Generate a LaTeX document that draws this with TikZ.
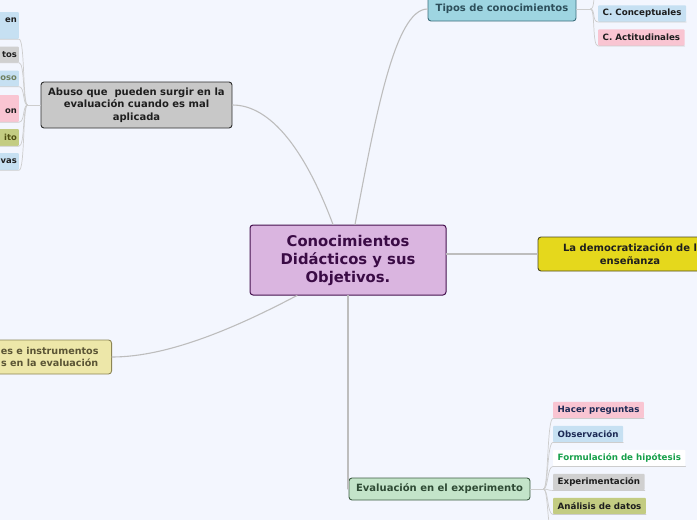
\documentclass[tikz,border=0pt]{standalone}
\usepackage{fontspec}
\setmainfont{DejaVu Sans}
\definecolor{bgpaper}{HTML}{F3F6FE}
\definecolor{linkgray}{HTML}{BDBDBD}
\definecolor{twiggray}{HTML}{CDCDCD}
\definecolor{cfill}{HTML}{DAB5E0}
\definecolor{cdraw}{HTML}{45124F}
\definecolor{ctext}{HTML}{3A0B45}
\definecolor{abfill}{HTML}{C8C8C8}
\definecolor{abdraw}{HTML}{2E2E2E}
\definecolor{tifill}{HTML}{9ED5E1}
\definecolor{tidraw}{HTML}{3D6E7C}
\definecolor{titext}{HTML}{2C4E5A}
\definecolor{defill}{HTML}{E5D81C}
\definecolor{dedraw}{HTML}{4D4A20}
\definecolor{infill}{HTML}{EDE7A9}
\definecolor{indraw}{HTML}{8C8555}
\definecolor{intext}{HTML}{5B5535}
\definecolor{evfill}{HTML}{C3E4C9}
\definecolor{evdraw}{HTML}{3E5E44}
\definecolor{evtext}{HTML}{2E4A34}
\definecolor{blueleaf}{HTML}{C6E0F2}
\definecolor{pinkleaf}{HTML}{F9C5D2}
\definecolor{grayleaf}{HTML}{D0D0D0}
\definecolor{oliveleaf}{HTML}{C3CC82}
\definecolor{navytext}{HTML}{1C2A55}
\definecolor{greentext}{HTML}{17A04B}
\definecolor{sagetext}{HTML}{6E7F5E}
\definecolor{olivetext}{HTML}{4E4E10}
\definecolor{darktext}{HTML}{1E1E1E}
\tikzset{
  every picture/.style={line join=round, line cap=round},
  topic/.style={draw, rounded corners=3pt, line width=0.9pt, align=center, inner sep=0pt,
    font=\bfseries\fontsize{10}{12.5}\selectfont},
  leaf/.style={rounded corners=1pt, inner xsep=4.5pt, inner ysep=0pt, minimum height=16.5pt,
    font=\bfseries\fontsize{8.7}{11}\selectfont},
  branch/.style={draw=linkgray, line width=1.1pt},
  twig/.style={draw=twiggray, line width=0.7pt},
}

\begin{document}
\begin{tikzpicture}[x=1pt,y=-1pt]
\fill[bgpaper] (0,0) rectangle (697,520);
\useasboundingbox (0,0) rectangle (697,520);
\clip (0,0) rectangle (697,520);
% centre and main topics
\node[topic, fill=cfill, draw=cdraw, text=ctext, line width=1pt, minimum width=196pt, minimum height=70pt,
  font=\bfseries\fontsize{14.8}{18}\selectfont] (c) at (348,260) {Conocimientos\\Didácticos y sus\\Objetivos.};
\node[topic, fill=abfill, draw=abdraw, text=darktext, minimum width=191pt, minimum height=46pt] (abuso) at (136.5,105)
  {Abuso que \ pueden surgir en la\\evaluación cuando es mal\\aplicada};
\node[topic, fill=tifill, draw=tidraw, text=titext, minimum width=148pt, minimum height=24pt] (tipos) at (502,9) {Tipos de conocimientos};
\node[topic, fill=defill, draw=dedraw, text=darktext, minimum width=184pt, minimum height=34pt] (democ) at (630,254)
  {La democratización de l\\enseñanza};
\node[topic, fill=infill, draw=indraw, text=intext, anchor=east, inner xsep=13pt, minimum height=34pt,
  font=\bfseries\fontsize{9.6}{12.5}\selectfont] (instr) at (112,357) {es e instrumentos\\s en la evaluación};
\node[topic, fill=evfill, draw=evdraw, text=evtext, minimum width=181pt, minimum height=22pt] (eval) at (439.5,489) {Evaluación en el experimento};

\draw[branch] ([xshift=-15pt]c.north) .. controls +(-28,-75) and +(38,0) .. (abuso.east);
\draw[branch] ([xshift=7pt]c.north) .. controls +(20,-105) and +(-33,0) .. (tipos.west);
\draw[branch] (c.east |- democ.west) -- (democ.west);
\draw[branch] ([xshift=-51pt]c.south) .. controls +(-57,30) and +(58,0) .. (instr.east);
\draw[branch] (c.south) -- (c.south |- eval.west);

% leaves of abuso
\coordinate (aj) at ([xshift=-13pt]abuso.west);
\draw[twig] (abuso.west) -- (aj);
\foreach \n/\y/\h/\txt/\bg/\fg in {a1/25.5/27/{en\\\mbox{}}/blueleaf/darktext, a2/54.5/16/tos/grayleaf/darktext,
    a3/78.5/16/oso/blueleaf/sagetext, a4/108.5/27/{\mbox{}\\on}/pinkleaf/darktext,
    a5/137.5/17/ito/oliveleaf/olivetext, a6/161.5/17/vas/blueleaf/darktext}{
  \node[leaf, fill=\bg, text=\fg, anchor=east, text width=30pt, align=right, inner xsep=2pt, minimum height=\h pt,
    font=\bfseries\fontsize{8.4}{11}\selectfont] (\n) at (19,\y) {\txt};
  \draw[twig] (aj) .. controls +(-5,0) and +(6,0) .. (\n.south east) -- (\n.south west);
}

% leaves of tipos
\coordinate (tj) at ([xshift=14pt]tipos.east);
\coordinate (tup) at (598,-8);
\draw[twig] (tipos.east) -- (tj);
\draw[twig] (tj) .. controls +(5,0) and +(-6,0) .. (tup);
\foreach \n/\y/\txt/\bg in {t1/13.5/C. Conceptuales/blueleaf, t2/37.5/C. Actitudinales/pinkleaf}{
  \node[leaf, fill=\bg, text=darktext, anchor=west] (\n) at (598,\y) {\txt};
  \draw[twig] (tj) .. controls +(5,0) and +(-6,0) .. (\n.south west) -- (\n.south east);
}

% leaves of eval
\coordinate (ej) at ([xshift=13pt]eval.east);
\coordinate (edown) at (553,534);
\draw[twig] (eval.east) -- (ej);
\draw[twig] (ej) .. controls +(5,0) and +(-6,0) .. (edown);
\foreach \n/\y/\txt/\bg/\fg in {e1/410/Hacer preguntas/pinkleaf/navytext, e2/434/Observación/blueleaf/navytext,
    e3/458/Formulación de hipótesis/white/greentext, e4/482/Experimentación/grayleaf/darktext,
    e5/506/Análisis de datos/oliveleaf/darktext}{
  \node[leaf, fill=\bg, text=\fg, anchor=west] (\n) at (553,\y) {\txt};
  \draw[twig] (ej) .. controls +(5,0) and +(-6,0) .. (\n.south west) -- (\n.south east);
}
\end{tikzpicture}
\end{document}
